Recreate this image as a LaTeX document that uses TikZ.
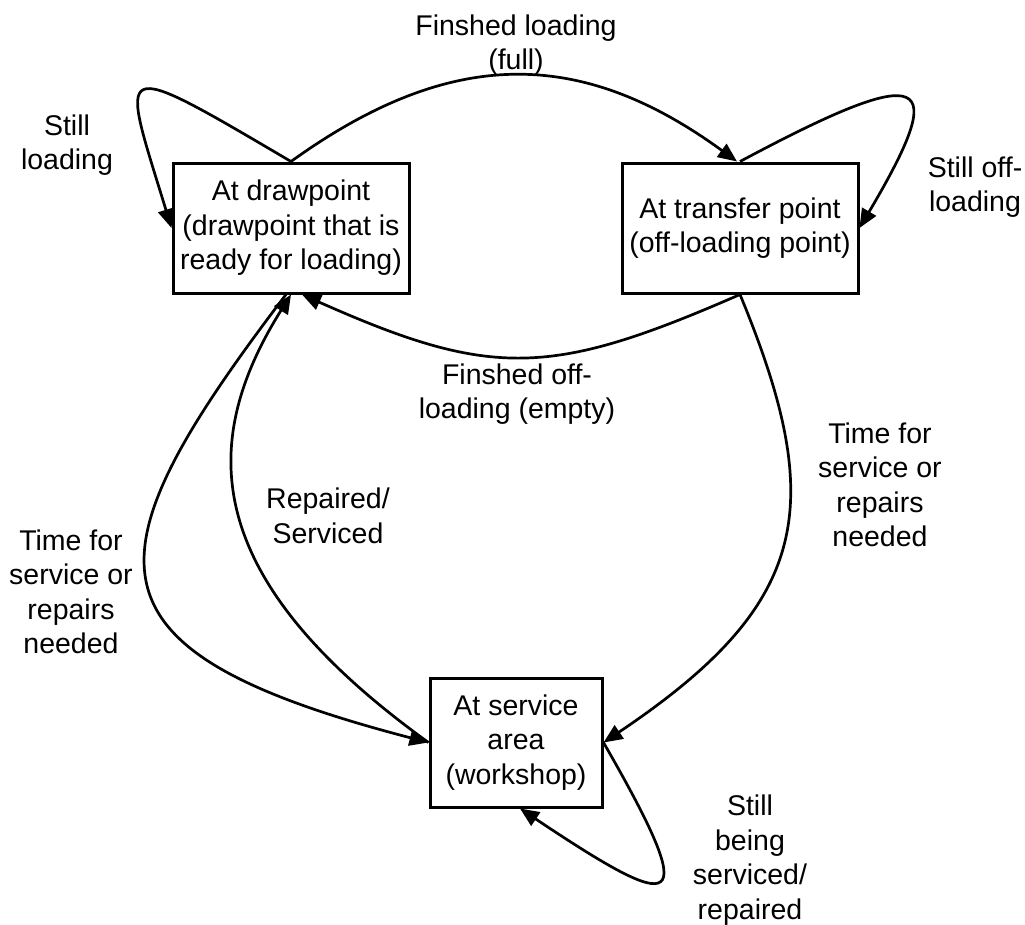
\documentclass[tikz,border=0pt]{standalone}
\usepackage{fontspec}
\setmainfont{Liberation Sans}
\usetikzlibrary{arrows.meta}
\newcommand\lblfont{\fontsize{28.5}{34.5}\selectfont}
\begin{document}
\begin{tikzpicture}[x=1pt,y=-1pt,
  state/.style={draw, line width=3pt, inner sep=0pt, align=center, font=\lblfont},
  lbl/.style={align=center, font=\lblfont, inner sep=0pt},
  edge/.style={line width=2.7pt, -{Triangle[length=19pt,width=16pt]}}]
\useasboundingbox (0,0) rectangle (1025,924);
\node[state, minimum width=236pt, minimum height=130pt] (A) at (291,228) {At drawpoint\\(drawpoint that is\\ready for loading)};
\node[state, minimum width=236pt, minimum height=130pt] (B) at (740,228) {At transfer point\\(off-loading point)};
\node[state, minimum width=172pt, minimum height=129pt] (C) at (516,742.5) {At service\\area\\(workshop)};

\draw[edge] (A.north) .. controls (110,55) and (120,60) .. (A.west);
\draw[edge] (A.north) .. controls (450,47) and (580,47) .. ([xshift=-3pt]B.north);
\draw[edge] (B.north) .. controls (930,60) and (950,75) .. (B.east);
\draw[edge] (B.south) .. controls (551,377) and (492,379) .. ([xshift=11pt]A.south);
\draw[edge] (B.south) .. controls (828,507) and (810,604) .. (C.east);
\draw[edge] ([xshift=-5pt]A.south) .. controls (84,560) and (74,650) .. (C.west);
\draw[edge] (C.west) .. controls (203,580) and (196,446) .. (A.south);
\draw[edge] (C.east) .. controls (704,917) and (678,914) .. ([xshift=4pt]C.south);

\node[lbl] (l1) at (516,45) {Finshed loading\\(full)};
\node[lbl] (l2) at (67,145) {Still\\loading};
\node[lbl] (l3) at (975,187) {Still off-\\loading};
\node[lbl] (l4) at (517,394) {Finshed off-\\loading (empty)};
\node[lbl] (l5) at (880,485) {Time for\\service or\\repairs\\needed};
\node[lbl] (l6) at (71,592) {Time for\\service or\\repairs\\needed};
\node[lbl] (l7) at (328,516) {Repaired/\\Serviced};
\node[lbl] (l8) at (750,860) {Still\\being\\serviced/\\repaired};
\end{tikzpicture}
\end{document}
